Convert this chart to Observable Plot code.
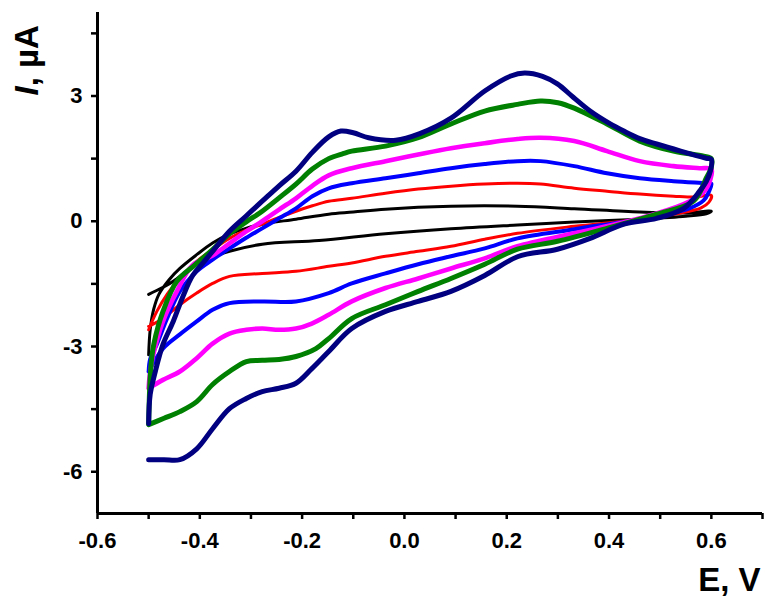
<!DOCTYPE html>
<html>
<head>
<meta charset="utf-8">
<script src="https://cdn.jsdelivr.net/npm/d3@7"></script>
<script src="https://cdn.jsdelivr.net/npm/@observablehq/plot@0.6"></script>
<style>
  html, body { margin: 0; padding: 0; background: #fff; }
  #chart { width: 778px; height: 609px; }
</style>
</head>
<body>
<div id="chart"></div>
<script>
// Tick values
const E_TICKS = [-0.6, -0.4, -0.2, 0, 0.2, 0.4, 0.6];
const E_MINOR = [-0.5, -0.3, -0.1, 0.1, 0.3, 0.5, 0.7];
const I_TICKS = [-6, -3, 0, 3];
const I_MINOR = [-4.5, -1.5, 1.5, 4.5];

// Cyclic voltammograms: [E (V), I (µA)], forward scan then reverse scan
const blackCV = [
  [-0.5,-3.2],[-0.497,-2.6],[-0.49,-2.1],[-0.48,-1.75],[-0.46,-1.4],[-0.439,-1.13],[-0.406,-0.8],
  [-0.375,-0.52],[-0.342,-0.31],[-0.31,-0.17],[-0.278,-0.07],[-0.212,0.05],[-0.148,0.17],[-0.1,0.22],
  [-0.037,0.29],[0.091,0.36],[0.221,0.36],[0.332,0.3],[0.46,0.22],[0.55,0.2],[0.6,0.24],
  [0.59,0.18],[0.55,0.12],[0.46,0.05],[0.332,-0.02],[0.221,-0.09],[0.091,-0.18],[-0.037,-0.3],
  [-0.167,-0.46],[-0.278,-0.55],[-0.342,-0.72],[-0.406,-1.03],[-0.452,-1.44],[-0.472,-1.58],[-0.5,-1.75]
];
const redCV = [
  [-0.5,-2.6],[-0.484,-2.16],[-0.464,-1.75],[-0.439,-1.37],[-0.406,-0.96],[-0.375,-0.68],[-0.342,-0.41],
  [-0.31,-0.22],[-0.278,-0.07],[-0.245,0.09],[-0.212,0.24],[-0.18,0.37],[-0.148,0.48],[-0.103,0.55],
  [-0.037,0.67],[0.027,0.77],[0.091,0.84],[0.157,0.89],[0.221,0.91],[0.266,0.89],[0.332,0.79],
  [0.396,0.72],[0.46,0.65],[0.526,0.6],[0.57,0.58],[0.6,0.62],
  [0.595,0.45],[0.58,0.32],[0.557,0.24],[0.46,0.05],[0.332,-0.12],[0.221,-0.29],[0.157,-0.43],
  [0.091,-0.6],[0.027,-0.72],[-0.037,-0.84],[-0.103,-1.0],[-0.148,-1.08],[-0.212,-1.2],[-0.278,-1.25],
  [-0.342,-1.32],[-0.375,-1.49],[-0.406,-1.72],[-0.439,-2.0],[-0.472,-2.33],[-0.5,-2.52]
];
const blueCV = [
  [-0.5,-3.6],[-0.497,-3.3],[-0.484,-2.95],[-0.464,-2.33],[-0.439,-1.68],[-0.406,-1.2],[-0.375,-0.92],
  [-0.342,-0.65],[-0.31,-0.4],[-0.278,-0.17],[-0.245,0.07],[-0.212,0.31],[-0.18,0.6],[-0.148,0.79],
  [-0.103,0.91],[-0.037,1.03],[0.027,1.15],[0.091,1.27],[0.157,1.37],[0.221,1.44],[0.266,1.44],
  [0.332,1.32],[0.396,1.15],[0.46,1.03],[0.526,0.96],[0.59,0.91],[0.6,0.9],
  [0.595,0.7],[0.585,0.5],[0.557,0.31],[0.46,0.05],[0.332,-0.19],[0.221,-0.41],[0.157,-0.65],
  [0.091,-0.84],[0.027,-1.03],[-0.037,-1.25],[-0.103,-1.49],[-0.148,-1.72],[-0.212,-1.92],[-0.278,-1.92],
  [-0.342,-1.96],[-0.375,-2.12],[-0.406,-2.4],[-0.439,-2.71],[-0.472,-3.05],[-0.5,-3.6]
];
const magentaCV = [
  [-0.5,-4.0],[-0.498,-3.7],[-0.491,-3.2],[-0.472,-2.4],[-0.445,-1.68],[-0.414,-1.05],[-0.375,-0.82],
  [-0.342,-0.53],[-0.31,-0.25],[-0.278,0.0],[-0.245,0.28],[-0.212,0.55],[-0.18,0.85],[-0.148,1.1],
  [-0.103,1.27],[-0.037,1.44],[0.027,1.6],[0.091,1.75],[0.157,1.87],[0.221,1.97],[0.266,2.0],
  [0.332,1.92],[0.396,1.68],[0.46,1.44],[0.526,1.32],[0.577,1.27],[0.6,1.25],
  [0.598,1.0],[0.585,0.7],[0.546,0.41],[0.46,0.07],[0.332,-0.29],[0.221,-0.6],[0.157,-0.89],
  [0.091,-1.13],[0.027,-1.37],[-0.037,-1.6],[-0.103,-1.92],[-0.148,-2.24],[-0.181,-2.45],[-0.212,-2.57],
  [-0.245,-2.6],[-0.278,-2.57],[-0.309,-2.6],[-0.342,-2.69],[-0.375,-2.93],[-0.406,-3.28],[-0.439,-3.6],
  [-0.472,-3.8],[-0.5,-4.0]
];
const greenCV = [
  [-0.5,-4.87],[-0.498,-4.0],[-0.495,-3.4],[-0.49,-2.95],[-0.472,-2.16],[-0.445,-1.44],[-0.41,-1.05],
  [-0.375,-0.68],[-0.342,-0.3],[-0.31,-0.02],[-0.278,0.24],[-0.245,0.56],[-0.212,0.89],[-0.18,1.25],
  [-0.148,1.5],[-0.12,1.62],[-0.103,1.68],[-0.037,1.8],[0.027,2.0],[0.091,2.33],[0.157,2.64],
  [0.221,2.8],[0.266,2.88],[0.3,2.84],[0.332,2.71],[0.396,2.33],[0.46,1.92],[0.526,1.68],[0.585,1.56],[0.6,1.5],
  [0.6,1.3],[0.59,1.03],[0.565,0.48],[0.493,0.17],[0.396,-0.17],[0.299,-0.48],[0.221,-0.67],
  [0.157,-1.03],[0.091,-1.37],[0.027,-1.68],[-0.037,-2.0],[-0.103,-2.33],[-0.148,-2.81],[-0.173,-3.05],
  [-0.212,-3.24],[-0.245,-3.31],[-0.278,-3.33],[-0.309,-3.36],[-0.342,-3.6],[-0.375,-3.91],[-0.406,-4.32],
  [-0.439,-4.56],[-0.47,-4.72],[-0.5,-4.87]
];
const navyCV = [
  [-0.5,-4.85],[-0.497,-4.15],[-0.487,-3.6],[-0.472,-2.95],[-0.452,-2.4],[-0.433,-1.8],[-0.414,-1.3],
  [-0.394,-1.0],[-0.375,-0.72],[-0.342,-0.24],[-0.31,0.12],[-0.278,0.48],[-0.245,0.85],[-0.212,1.2],
  [-0.18,1.65],[-0.148,2.02],[-0.124,2.16],[-0.1,2.12],[-0.07,2.0],[-0.017,1.94],[0.03,2.1],[0.091,2.47],
  [0.157,3.12],[0.208,3.48],[0.235,3.55],[0.27,3.47],[0.299,3.29],[0.33,2.97],[0.363,2.64],[0.4,2.35],
  [0.429,2.16],[0.46,1.98],[0.493,1.85],[0.54,1.68],[0.59,1.51],[0.6,1.48],
  [0.598,1.2],[0.59,0.95],[0.577,0.72],[0.546,0.31],[0.493,0.07],[0.429,-0.07],[0.363,-0.41],
  [0.299,-0.67],[0.221,-0.85],[0.157,-1.3],[0.091,-1.68],[0.027,-1.92],[-0.037,-2.16],[-0.103,-2.57],
  [-0.148,-3.12],[-0.181,-3.53],[-0.212,-3.88],[-0.245,-4.0],[-0.278,-4.08],[-0.31,-4.25],[-0.342,-4.49],
  [-0.375,-4.97],[-0.406,-5.45],[-0.439,-5.71],[-0.47,-5.71],[-0.5,-5.71]
];

const seriesList = [
  {data: blackCV, color: "#000000", width: 3},
  {data: redCV, color: "#ff0000", width: 3},
  {data: blueCV, color: "#0000ff", width: 4},
  {data: magentaCV, color: "#ff00ff", width: 4.6},
  {data: greenCV, color: "#008000", width: 5},
  {data: navyCV, color: "#000080", width: 5}
];

const FONT = "'Liberation Sans', Arial, Helvetica, sans-serif";

const chart = Plot.plot({
  width: 778,
  height: 609,
  marginLeft: 97,
  marginRight: 16,
  marginTop: 12,
  marginBottom: 96,
  x: {domain: [-0.6, 0.7]},
  y: {domain: [-7, 5]},
  style: {fontFamily: FONT, fontSize: "22px", fontWeight: "bold", color: "#000", background: "#fff", overflow: "visible"},
  marks: [
    ...seriesList.map(s => Plot.line(s.data, {
      x: d => d[0], y: d => d[1],
      stroke: s.color, strokeWidth: s.width, curve: "catmull-rom",
      strokeLinejoin: "round", strokeLinecap: "round"
    })),
    Plot.axisX(E_TICKS, {tickSize: 6, tickPadding: 13, strokeWidth: 2.5, tickFormat: d => d.toFixed(1), label: null, fontSize: 22, fontWeight: "bold"}),
    Plot.axisX(E_MINOR, {tickSize: 6, strokeWidth: 2.5, tickFormat: () => "", label: null}),
    Plot.axisY(I_TICKS, {tickSize: 6, tickPadding: 9, strokeWidth: 2.5, tickFormat: d => String(d), label: null, fontSize: 22, fontWeight: "bold"}),
    Plot.axisY(I_MINOR, {tickSize: 6, strokeWidth: 2.5, tickFormat: () => "", label: null}),
    Plot.ruleX([-0.6], {strokeWidth: 3}),
    Plot.ruleY([-7], {strokeWidth: 3}),
    Plot.text(["E, V"], {text: d => d, frameAnchor: "bottom-right", dx: -2, dy: 77, textAnchor: "end", lineAnchor: "bottom", fontSize: 33, fontWeight: "bold"}),
    Plot.text(["I, \u00B5A"], {text: d => d, frameAnchor: "top-left", dx: -60, dy: 83, rotate: -90, textAnchor: "start", lineAnchor: "bottom", fontSize: 33, fontWeight: "bold"})
  ]
});

document.getElementById("chart").appendChild(chart);

// Italic "I" in the y-axis title
d3.select(chart).selectAll("text").each(function() {
  if (this.textContent === "I, \u00B5A") {
    const t = d3.select(this);
    t.text(null);
    t.append("tspan").attr("font-style", "italic").text("I");
    t.append("tspan").text(", \u00B5A");
  }
});
</script>
</body>
</html>
